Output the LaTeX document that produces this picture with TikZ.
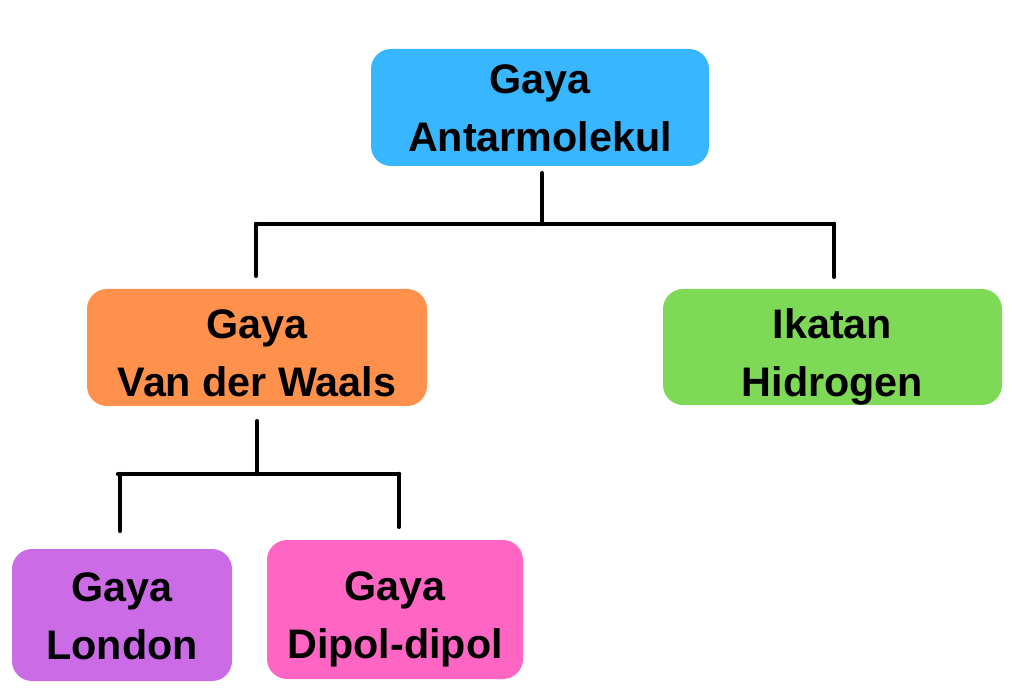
\documentclass[tikz,border=0pt]{standalone}
\usepackage{fontspec}
\setmainfont{Liberation Sans}
\definecolor{atasbiru}{HTML}{38B6FF}
\definecolor{vdworanye}{HTML}{FF914D}
\definecolor{hidhijau}{HTML}{7ED957}
\definecolor{londonungu}{HTML}{CB6CE6}
\definecolor{dipolpink}{HTML}{FF66C4}
\begin{document}
\begin{tikzpicture}[x=1pt,y=-1pt,
		kotak/.style={rectangle,rounded corners=20pt,inner sep=0pt,align=center,
			font=\bfseries\fontsize{41.3}{58}\selectfont,text height=88pt,text depth=0pt},
		turun/.style={text height=98pt},
		garis/.style={line width=4.5pt,line cap=round}]
				\useasboundingbox (0,0) rectangle (1012,692);
				\node[kotak,fill=atasbiru,minimum width=338pt,minimum height=117pt] (gaya) at (540,107.5) {Gaya\\Antarmolekul};
				\node[kotak,turun,fill=vdworanye,minimum width=340pt,minimum height=117pt] (vdw) at (257,347.5) {Gaya\\Van der Waals};
				\node[kotak,turun,fill=hidhijau,minimum width=339pt,minimum height=116pt] (hid) at (832.5,347) {Ikatan\\Hidrogen};
				\node[kotak,fill=londonungu,minimum width=220pt,minimum height=132pt] (london) at (122,615) {Gaya\\London};
				\node[kotak,turun,fill=dipolpink,minimum width=256pt,minimum height=139pt] (dipol) at (395,609.5) {Gaya\\Dipol-dipol};
				\coordinate (a1) at (256,224);
				\coordinate (a2) at (834,224);
				\coordinate (b1) at (118,474);
				\coordinate (b2) at (399,474);
				\draw[garis,shorten <=7pt] ([xshift=2pt]gaya.south) -- ([xshift=2pt]gaya.south |- a1);
				\draw[garis] (a1) -- (a2);
				\draw[garis,shorten >=13pt] (a1) -- (a1 |- vdw.north);
				\draw[garis,shorten >=12pt] (a2) -- (a2 |- hid.north);
				\draw[garis,shorten <=15pt] (vdw.south) -- (vdw.south |- b1);
				\draw[garis] (b1) -- (b2);
				\draw[garis,shorten >=18pt] ([xshift=2pt]b1) -- ([xshift=2pt]b1 |- london.north);
				\draw[garis,shorten >=13pt] (b2) -- (b2 |- dipol.north);
			\end{tikzpicture}
\end{document}
